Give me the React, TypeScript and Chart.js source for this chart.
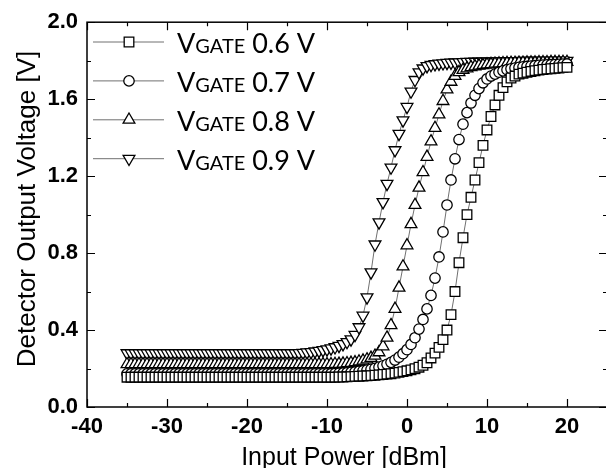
import React, { useEffect, useRef } from 'react';
import { Chart, registerables } from 'chart.js';
import { drawPoint } from 'chart.js/helpers';

Chart.register(...registerables);

// Input power [dBm]
const inputPower = [
  -35, -34.5, -34, -33.5, -33, -32.5, -32, -31.5, -31, -30.5,
  -30, -29.5, -29, -28.5, -28, -27.5, -27, -26.5, -26, -25.5,
  -25, -24.5, -24, -23.5, -23, -22.5, -22, -21.5, -21, -20.5,
  -20, -19.5, -19, -18.5, -18, -17.5, -17, -16.5, -16, -15.5,
  -15, -14.5, -14, -13.5, -13, -12.5, -12, -11.5, -11, -10.5,
  -10,
  -9.5, -9, -8.5, -8, -7.5, -7, -6.5, -6, -5.5, -5,
  -4.5, -4, -3.5, -3, -2.5, -2, -1.5, -1, -0.5, 0,
  0.5, 1, 1.5, 2, 2.5, 3, 3.5, 4, 4.5, 5,
  5.5, 6, 6.5, 7, 7.5, 8, 8.5, 9, 9.5, 10,
  10.5, 11, 11.5, 12, 12.5, 13, 13.5, 14, 14.5, 15,
  15.5, 16, 16.5, 17, 17.5, 18, 18.5, 19, 19.5, 20,
];

// Detector output voltage [V], VGATE = 0.6 V
const vgate06 = [
  0.155, 0.155, 0.155, 0.155, 0.155, 0.155, 0.155, 0.155, 0.155, 0.155,
  0.155, 0.155, 0.155, 0.155, 0.155, 0.155, 0.155, 0.155, 0.155, 0.155,
  0.155, 0.155, 0.155, 0.155, 0.155, 0.155, 0.155, 0.155, 0.155, 0.155,
  0.155, 0.155, 0.155, 0.155, 0.155, 0.155, 0.155, 0.155, 0.155, 0.155,
  0.155, 0.155, 0.155, 0.155, 0.155, 0.155, 0.155, 0.155, 0.155, 0.155,
  0.155,
  0.155, 0.155, 0.156, 0.156, 0.157, 0.158, 0.159, 0.16, 0.161, 0.162,
  0.163, 0.165, 0.167, 0.169, 0.171, 0.173, 0.176, 0.18, 0.184, 0.188,
  0.193, 0.199, 0.207, 0.217, 0.23, 0.255, 0.28, 0.31, 0.35, 0.40,
  0.48, 0.60, 0.75, 0.88, 1.0, 1.09, 1.18, 1.27, 1.36, 1.44,
  1.51, 1.57, 1.62, 1.66, 1.69, 1.71, 1.72, 1.73, 1.735, 1.74,
  1.744, 1.748, 1.751, 1.754, 1.756, 1.758, 1.76, 1.762, 1.764, 1.765,
];

// VGATE = 0.7 V
const vgate07 = [
  0.172, 0.172, 0.172, 0.172, 0.172, 0.172, 0.172, 0.172, 0.172, 0.172,
  0.172, 0.172, 0.172, 0.172, 0.172, 0.172, 0.172, 0.172, 0.172, 0.172,
  0.172, 0.172, 0.172, 0.172, 0.172, 0.172, 0.172, 0.172, 0.172, 0.172,
  0.172, 0.172, 0.172, 0.172, 0.172, 0.172, 0.172, 0.172, 0.172, 0.172,
  0.172, 0.172, 0.172, 0.172, 0.172, 0.172, 0.172, 0.172, 0.172, 0.172,
  0.172,
  0.173, 0.174, 0.175, 0.176, 0.178, 0.18, 0.182, 0.185, 0.188, 0.192,
  0.196, 0.201, 0.207, 0.214, 0.222, 0.232, 0.244, 0.259, 0.277, 0.298,
  0.325, 0.36, 0.405, 0.455, 0.51, 0.58, 0.67, 0.78, 0.91, 1.05,
  1.18, 1.29, 1.39, 1.47, 1.53, 1.58, 1.62, 1.655, 1.685, 1.705,
  1.72, 1.73, 1.74, 1.747, 1.753, 1.758, 1.762, 1.765, 1.768, 1.77,
  1.772, 1.774, 1.776, 1.777, 1.778, 1.779, 1.78, 1.781, 1.782, 1.783,
];

// VGATE = 0.8 V
const vgate08 = [
  0.222, 0.222, 0.222, 0.222, 0.222, 0.222, 0.222, 0.222, 0.222, 0.222,
  0.222, 0.222, 0.222, 0.222, 0.222, 0.222, 0.222, 0.222, 0.222, 0.222,
  0.222, 0.222, 0.222, 0.222, 0.222, 0.222, 0.222, 0.222, 0.222, 0.222,
  0.222, 0.222, 0.222, 0.222, 0.222, 0.222, 0.222, 0.222, 0.222, 0.222,
  0.222, 0.222, 0.222, 0.222, 0.222, 0.222, 0.222, 0.222, 0.222, 0.222,
  0.222,
  0.222, 0.223, 0.224, 0.225, 0.227, 0.229, 0.232, 0.236, 0.241, 0.247,
  0.255, 0.266, 0.284, 0.315, 0.36, 0.425, 0.51, 0.62, 0.73, 0.84,
  0.95, 1.05, 1.14, 1.22, 1.30, 1.38, 1.45, 1.52, 1.59, 1.65,
  1.69, 1.72, 1.74, 1.752, 1.76, 1.766, 1.77, 1.774, 1.777, 1.78,
  1.782, 1.784, 1.785, 1.786, 1.787, 1.788, 1.788, 1.789, 1.789, 1.79,
  1.79, 1.79, 1.791, 1.791, 1.791, 1.792, 1.792, 1.792, 1.793, 1.793,
];

// VGATE = 0.9 V
const vgate09 = [
  0.28, 0.28, 0.28, 0.28, 0.28, 0.28, 0.28, 0.28, 0.28, 0.28,
  0.28, 0.28, 0.28, 0.28, 0.28, 0.28, 0.28, 0.28, 0.28, 0.28,
  0.28, 0.28, 0.28, 0.28, 0.28, 0.28, 0.28, 0.28, 0.28, 0.28,
  0.28, 0.28, 0.28, 0.28, 0.28, 0.28, 0.28, 0.28, 0.28, 0.28,
  0.28, 0.28, 0.28, 0.281, 0.282, 0.284, 0.286, 0.289, 0.292, 0.296,
  0.30,
  0.305, 0.311, 0.318, 0.327, 0.338, 0.352, 0.375, 0.415, 0.475, 0.57,
  0.70, 0.845, 0.96, 1.065, 1.16, 1.245, 1.335, 1.42, 1.49, 1.56,
  1.64, 1.70, 1.74, 1.76, 1.772, 1.778, 1.782, 1.785, 1.787, 1.789,
  1.79, 1.791, 1.792, 1.793, 1.794, 1.794, 1.795, 1.795, 1.796, 1.796,
  1.796, 1.797, 1.797, 1.797, 1.798, 1.798, 1.798, 1.798, 1.799, 1.799,
  1.799, 1.799, 1.8, 1.8, 1.8, 1.8, 1.8, 1.8, 1.8, 1.8,
];

const seriesValues = [vgate06, vgate07, vgate08, vgate09];
const gateVoltages = ['0.6', '0.7', '0.8', '0.9'];
const seriesLabels = ['VGATE 0.6 V', 'VGATE 0.7 V', 'VGATE 0.8 V', 'VGATE 0.9 V'];

const xMajorTicks = [-40, -30, -20, -10, 0, 10, 20];
const xMinorTicks = [-35, -25, -15, -5, 5, 15];
const yMajorTicks = [0, 0.4, 0.8, 1.2, 1.6, 2.0];
const yMinorTicks = [0.2, 0.6, 1.0, 1.4, 1.8];
const xTitle = 'Input Power [dBm]';
const yTitle = 'Detector Output Voltage [V]';

const markerStyles = [
  { pointStyle: 'rect', radius: 6.8, rotation: 0 },
  { pointStyle: 'circle', radius: 5.2, rotation: 0 },
  { pointStyle: 'triangle', radius: 6.8, rotation: 0 },
  { pointStyle: 'triangle', radius: 6.8, rotation: 180 },
];

const LINE_COLOR = '#707070';
const MARKER_BORDER = 1.3;

const framePlugin = {
  id: 'frameAndTitles',
  afterDatasetsDraw(chart: any) {
    const { ctx, chartArea: a, scales } = chart;
    const x = scales.x;
    const y = scales.y;
    ctx.save();
    ctx.strokeStyle = '#000';
    ctx.lineWidth = 1.5;
    ctx.strokeRect(a.left, a.top, a.right - a.left, a.bottom - a.top);
    ctx.lineWidth = 1.2;
    const xt = (vals: number[], len: number) => {
      vals.forEach((v) => {
        const px = Math.round(x.getPixelForValue(v)) + 0.5;
        ctx.beginPath();
        ctx.moveTo(px, a.bottom);
        ctx.lineTo(px, a.bottom - len);
        ctx.moveTo(px, a.top);
        ctx.lineTo(px, a.top + len);
        ctx.stroke();
      });
    };
    const yt = (vals: number[], len: number) => {
      vals.forEach((v) => {
        const py = Math.round(y.getPixelForValue(v)) + 0.5;
        ctx.beginPath();
        ctx.moveTo(a.left, py);
        ctx.lineTo(a.left + len, py);
        ctx.moveTo(a.right, py);
        ctx.lineTo(a.right - len, py);
        ctx.stroke();
      });
    };
    xt(xMajorTicks, 8);
    xt(xMinorTicks, 4);
    yt(yMajorTicks, 8);
    yt(yMinorTicks, 4);

    ctx.fillStyle = '#000';
    ctx.textAlign = 'center';
    ctx.textBaseline = 'alphabetic';
    ctx.font = '25px "Liberation Sans", Arial, sans-serif';
    ctx.fillText(xTitle, 344, 465);
    ctx.font = '26px "Liberation Sans", Arial, sans-serif';
    ctx.translate(35, 209);
    ctx.rotate(-Math.PI / 2);
    ctx.fillText(yTitle, 0, 0);
    ctx.restore();
  },
};

const legendPlugin = {
  id: 'customLegend',
  afterDraw(chart: any) {
    const { ctx } = chart;
    ctx.save();
    seriesLabels.forEach((_, i) => {
      const rowY = 42 + 38.9 * i;
      ctx.strokeStyle = LINE_COLOR;
      ctx.lineWidth = 1;
      ctx.beginPath();
      ctx.moveTo(93, rowY);
      ctx.lineTo(164, rowY);
      ctx.stroke();
      const m = markerStyles[i];
      ctx.fillStyle = '#fff';
      ctx.strokeStyle = '#000';
      ctx.lineWidth = MARKER_BORDER;
      drawPoint(ctx, { pointStyle: m.pointStyle as any, radius: m.radius, rotation: m.rotation, borderWidth: MARKER_BORDER }, 129, rowY);
      ctx.fillStyle = '#000';
      ctx.textAlign = 'left';
      ctx.textBaseline = 'alphabetic';
      const base = rowY + 11;
      let tx = 177;
      ctx.font = '27px Lato, "Open Sans", sans-serif';
      ctx.fillText('V', tx, base);
      tx += ctx.measureText('V').width;
      ctx.font = '20px Lato, "Open Sans", sans-serif';
      ctx.fillText('GATE', tx, base);
      tx += ctx.measureText('GATE').width;
      ctx.font = '27px Lato, "Open Sans", sans-serif';
      ctx.fillText(' ' + gateVoltages[i] + ' V', tx, base);
    });
    ctx.restore();
  },
};

export default function App() {
  const ref = useRef<HTMLCanvasElement | null>(null);
  useEffect(() => {
    if (!ref.current) return;
    const tickFont = { family: '"Liberation Sans", Arial, sans-serif', size: 22, weight: 'bold' as const };
    const chart = new Chart(ref.current, {
      type: 'line',
      data: {
        datasets: seriesValues.map((vals, i) => ({
          label: seriesLabels[i],
          data: inputPower.map((p, j) => ({ x: p, y: vals[j] })),
          borderColor: LINE_COLOR,
          borderWidth: 1,
          backgroundColor: '#fff',
          pointStyle: markerStyles[i].pointStyle as any,
          pointRadius: markerStyles[i].radius,
          pointRotation: markerStyles[i].rotation,
          pointBackgroundColor: '#fff',
          pointBorderColor: '#000',
          pointBorderWidth: MARKER_BORDER,
          tension: 0,
          fill: false,
        })),
      },
      options: {
        responsive: false,
        animation: false,
        devicePixelRatio: 1,
        layout: { padding: { left: 0, right: 13, top: 20, bottom: 0 } },
        plugins: { legend: { display: false }, tooltip: { enabled: false } },
        scales: {
          x: {
            type: 'linear',
            min: -40,
            max: 25,
            afterBuildTicks: (s: any) => {
              s.ticks = xMajorTicks.map((v) => ({ value: v }));
            },
            afterFit: (s: any) => {
              s.height = 61;
            },
            grid: { display: false, drawTicks: false },
            border: { display: false },
            ticks: { padding: 7, color: '#000', font: tickFont, maxRotation: 0, callback: (v: any) => String(v) },
          },
          y: {
            type: 'linear',
            min: 0,
            max: 2,
            afterBuildTicks: (s: any) => {
              s.ticks = yMajorTicks.map((v) => ({ value: v }));
            },
            afterFit: (s: any) => {
              s.width = 87;
            },
            grid: { display: false, drawTicks: false },
            border: { display: false },
            ticks: { padding: 9, color: '#000', font: tickFont, callback: (v: any) => Number(v).toFixed(1) },
          },
        },
      },
      plugins: [framePlugin, legendPlugin],
    });
    return () => chart.destroy();
  }, []);
  return (
    <div style={{ position: 'fixed', left: 0, top: 0, width: 606, height: 468, overflow: 'hidden', background: '#fff' }}>
      <canvas ref={ref} width={620} height={468} style={{ display: 'block', width: 620, height: 468 }} />
    </div>
  );
}
